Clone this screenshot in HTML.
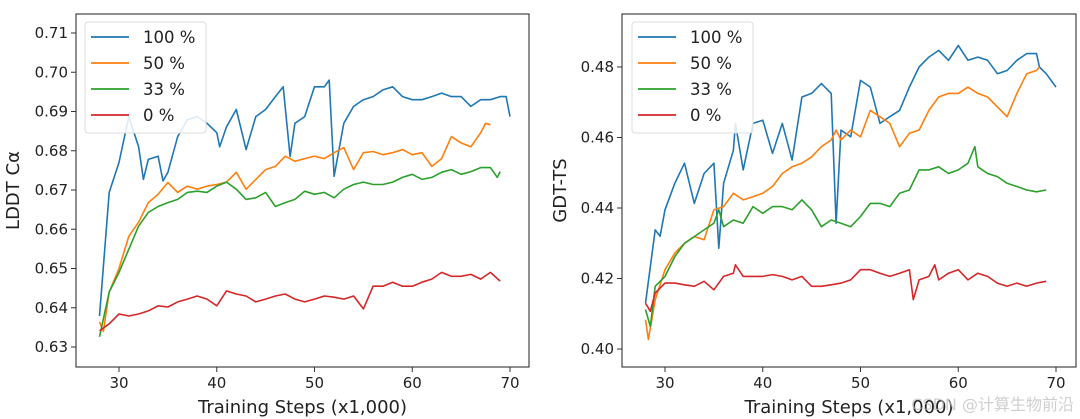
<!DOCTYPE html>
<html><head><meta charset="utf-8">
<style>
html,body{margin:0;padding:0;background:#fff;}
svg{display:block;font-family:"DejaVu Sans","Liberation Sans","Noto Sans CJK SC",sans-serif;}
</style></head>
<body>
<svg id="chart" width="1080" height="419" xmlns="http://www.w3.org/2000/svg"></svg>
<script>
const legendLabels = ["100 %", "50 %", "33 %", "0 %"];
const colors = ["#1f77b4", "#ff7f0e", "#2ca02c", "#d62728"];
const xTicks = [30, 40, 50, 60, 70];
const leftYTicks = [0.63,0.64,0.65,0.66,0.67,0.68,0.69,0.70,0.71];
const rightYTicks = [0.40,0.42,0.44,0.46,0.48];

const lBlueX=[28,29,30,31,32,32.5,33,34,34.5,35,36,37,38,39,40,40.3,41,42,43,44,45,46,46.8,47.5,48,49,50,51,51.5,52,53,54,55,56,57,58,59,60,61,62,63,64,65,66,67,68,69,69.6,70];
const lBlueY=[0.6379,0.6694,0.677,0.6887,0.681,0.6727,0.6778,0.6786,0.6723,0.6745,0.6836,0.6879,0.6887,0.687,0.6846,0.681,0.6861,0.6905,0.6803,0.6887,0.6905,0.6938,0.6963,0.6785,0.687,0.6887,0.6963,0.6963,0.698,0.6735,0.687,0.6913,0.693,0.6938,0.6955,0.6963,0.6938,0.693,0.693,0.6938,0.6947,0.6938,0.6938,0.6913,0.693,0.693,0.6938,0.6938,0.6887];
const lOrangeX=[28,28.4,29,30,31,32,33,34,35,36,37,38,39,40,41,42,43,44,45,46,47,48,49,50,51,52,53,54,55,56,57,58,59,60,61,62,63,64,65,66,67,67.5,68];
const lOrangeY=[0.6364,0.634,0.644,0.650,0.6582,0.6618,0.6668,0.6689,0.6719,0.6694,0.671,0.6702,0.671,0.6714,0.672,0.6745,0.6702,0.6727,0.6752,0.676,0.6786,0.6773,0.678,0.6786,0.678,0.6795,0.6808,0.6752,0.6795,0.6798,0.679,0.6795,0.6803,0.679,0.6795,0.676,0.678,0.6836,0.682,0.681,0.6846,0.687,0.6866];
const lGreenX=[28,29,30,31,32,33,34,35,36,37,38,39,40,41,42,43,44,45,46,47,48,49,50,51,52,53,54,55,56,57,58,59,60,61,62,63,64,65,66,67,68,68.7,69];
const lGreenY=[0.6326,0.644,0.649,0.6549,0.6608,0.6643,0.6658,0.6668,0.6676,0.6694,0.6697,0.6694,0.671,0.672,0.6702,0.6676,0.668,0.6694,0.6658,0.6668,0.6676,0.6697,0.6689,0.6694,0.668,0.6702,0.6714,0.672,0.6714,0.6714,0.672,0.6732,0.674,0.6727,0.6732,0.6745,0.6752,0.674,0.6747,0.6757,0.6757,0.6732,0.6747];
const lRedX=[28,29,30,31,32,33,34,35,36,37,38,39,40,41,42,43,44,45,46,47,48,49,50,51,52,53,54,55,56,57,58,59,60,61,62,63,64,65,66,67,68,69];
const lRedY=[0.6341,0.6359,0.6384,0.6379,0.6384,0.6392,0.6405,0.6402,0.6415,0.6422,0.643,0.6422,0.6405,0.6443,0.6435,0.643,0.6415,0.6422,0.643,0.6435,0.6422,0.6415,0.6422,0.643,0.6427,0.6422,0.643,0.6397,0.6455,0.6455,0.6465,0.6455,0.6455,0.6465,0.6473,0.649,0.648,0.648,0.6485,0.6473,0.649,0.6468];

const rBlueX=[28,29,29.5,30,31,32,33,34,35,35.5,36,37,37.2,38,39,40,41,42,43,44,45,46,47,47.5,48,49,50,51,52,53,54,55,56,57,58,59,60,61,62,63,64,65,66,67,68,68.3,69,70];
const rBlueY=[0.413,0.4338,0.432,0.4395,0.447,0.4527,0.4413,0.4498,0.4527,0.4286,0.447,0.4564,0.464,0.4508,0.464,0.4649,0.4555,0.464,0.4536,0.4715,0.4725,0.4753,0.4725,0.4357,0.4621,0.4602,0.4762,0.4743,0.464,0.4659,0.4677,0.4743,0.48,0.4828,0.4847,0.4819,0.4861,0.4819,0.4828,0.4819,0.4781,0.479,0.4819,0.4838,0.4838,0.48,0.4781,0.4743];
const rOrangeX=[28,28.3,29,30,31,32,33,34,35,36,37,38,39,40,41,42,43,44,45,46,47,47.5,48,49,50,51,52,53,54,55,56,57,58,59,60,61,62,63,64,65,66,67,68,68.3];
const rOrangeY=[0.4083,0.4027,0.414,0.4225,0.4272,0.43,0.4319,0.431,0.4395,0.4404,0.4442,0.4423,0.4432,0.4442,0.4461,0.4498,0.4517,0.4527,0.4545,0.4574,0.4593,0.4621,0.4593,0.4621,0.4602,0.4677,0.4659,0.464,0.4574,0.4612,0.4621,0.4677,0.4715,0.4725,0.4725,0.4743,0.4725,0.4715,0.4687,0.4659,0.4725,0.4781,0.479,0.48];
const rGreenX=[28,28.5,29,30,31,32,33,34,35,35.5,36,37,38,39,40,41,42,43,44,45,46,47,48,49,50,51,52,53,54,55,56,57,58,59,60,61,61.7,62,63,64,65,66,67,68,69];
const rGreenY=[0.4112,0.4064,0.4178,0.4206,0.4262,0.43,0.4319,0.4338,0.4357,0.4395,0.4347,0.4366,0.4357,0.4404,0.4385,0.4404,0.4404,0.4395,0.4423,0.4395,0.4347,0.4366,0.4357,0.4347,0.4376,0.4413,0.4413,0.4404,0.4442,0.4451,0.4508,0.4508,0.4517,0.4498,0.4508,0.4527,0.4574,0.4517,0.4498,0.4489,0.447,0.4461,0.4451,0.4446,0.4451];
const rRedX=[28,28.5,29,30,31,32,33,34,35,36,37,37.2,38,39,40,41,42,43,44,45,46,47,48,49,50,51,52,53,54,55,55.4,56,57,57.6,58,59,60,61,62,63,64,65,66,67,68,69];
const rRedY=[0.413,0.4107,0.4159,0.4187,0.4187,0.4182,0.4178,0.4192,0.4168,0.4206,0.4215,0.4239,0.4206,0.4206,0.4206,0.4211,0.4206,0.4196,0.4206,0.4178,0.4178,0.4182,0.4187,0.4196,0.4225,0.4225,0.4215,0.4206,0.4215,0.4225,0.414,0.4196,0.4206,0.4239,0.4196,0.4215,0.4225,0.4196,0.4215,0.4206,0.4187,0.4178,0.4187,0.4178,0.4187,0.4192];

const NS="http://www.w3.org/2000/svg";
const svg=document.getElementById('chart');
function mk(tag,attrs,parent){const e=document.createElementNS(NS,tag);for(const k in attrs)e.setAttribute(k,attrs[k]);(parent||svg).appendChild(e);return e;}

function panel(cfg){
  const g=mk('g',{});
  
  
  const xs=v=>cfg.x30+(v-30)*(cfg.x70-cfg.x30)/40;
  const ys=v=>cfg.yA+(v-cfg.vA)*(cfg.yB-cfg.yA)/(cfg.vB-cfg.vA);
  cfg.series.forEach((s,i)=>{
    const d=s[0].map((x,j)=>(j?'L':'M')+xs(x).toFixed(1)+' '+ys(s[1][j]).toFixed(1)).join(' ');
    const p=mk('path',{d:d,fill:'none',stroke:colors[i],'stroke-width':1.6,'stroke-linejoin':'round'},g);
    
    
  });
  const fr=mk('rect',{x:cfg.L,y:cfg.T,width:cfg.R-cfg.L,height:cfg.B-cfg.T,fill:'none',stroke:'#333','stroke-width':1.1},g);
  
  
  xTicks.forEach(t=>{
    const x=xs(t);
    mk('line',{x1:x,x2:x,y1:cfg.B,y2:cfg.B+5,stroke:'#333','stroke-width':1},g);
    const tx=mk('text',{x:x,y:cfg.B+21,'font-size':15,'text-anchor':'middle',fill:'#222'},g);
    tx.textContent=t;
    
    
  });
  cfg.yTicks.forEach(t=>{
    const y=ys(t);
    mk('line',{x1:cfg.L-5,x2:cfg.L,y1:y,y2:y,stroke:'#333','stroke-width':1},g);
    const tx=mk('text',{x:cfg.L-8,y:y+5,'font-size':15,'text-anchor':'end',fill:'#222'},g);
    tx.textContent=t.toFixed(cfg.dec);
    
    
  });
  const xl=mk('text',{x:(cfg.L+cfg.R)/2,y:413,'font-size':18,'text-anchor':'middle',fill:'#222'},g);
  xl.textContent='Training Steps (x1,000)';
  
  
  const yl=mk('text',{x:0,y:0,'font-size':18,'text-anchor':'middle',fill:'#222',transform:`translate(${cfg.ylx},${(cfg.T+cfg.B)/2}) rotate(-90)`},g);
  yl.textContent=cfg.ylabel;
  
  
  const lg=mk('g',{},g);
  
  
  mk('rect',{x:cfg.lgx,y:22,width:121,height:111,rx:3,fill:'#fff','fill-opacity':0.85,stroke:'#ddd','stroke-width':1},lg);
  legendLabels.forEach((lab,i)=>{
    const y=37+i*26;
    mk('line',{x1:cfg.lgx+6,x2:cfg.lgx+44,y1:y,y2:y,stroke:colors[i],'stroke-width':1.8},lg);
    const t=mk('text',{x:cfg.lgx+58,y:y+6,'font-size':16.5,fill:'#222'},lg);
    t.textContent=lab;
    
    
  });
}

panel({name:'lddt-panel',L:76,R:529,T:14,B:367,x30:119,x70:510,vA:0.71,yA:33,vB:0.63,yB:347,
  yTicks:leftYTicks,dec:2,ylabel:'LDDT Cα',ylx:19,lgx:85,
  series:[[lBlueX,lBlueY],[lOrangeX,lOrangeY],[lGreenX,lGreenY],[lRedX,lRedY]]});
panel({name:'gdt-panel',L:622,R:1076,T:14,B:367,x30:665,x70:1056,vA:0.48,yA:67,vB:0.40,yB:349,
  yTicks:rightYTicks,dec:2,ylabel:'GDT-TS',ylx:566,lgx:632,
  series:[[rBlueX,rBlueY],[rOrangeX,rOrangeY],[rGreenX,rGreenY],[rRedX,rRedY]]});

const wm=mk('text',{x:1074,y:410,'font-size':16,'text-anchor':'end',fill:'#bbb','fill-opacity':0.7});
wm.textContent='CSDN @计算生物前沿';


</script>
</body></html>
